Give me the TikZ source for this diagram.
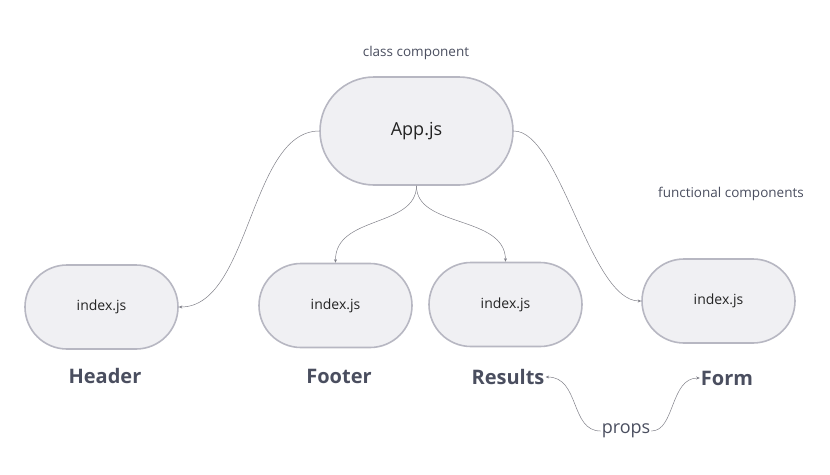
\documentclass[tikz,border=0pt]{standalone}
\usepackage{fontspec}
\setmainfont{Open Sans}
\usetikzlibrary{arrows.meta}
\definecolor{nodefill}{HTML}{F0F0F3}
\definecolor{nodeline}{HTML}{B7B7C2}
\definecolor{labelc}{HTML}{4A4E5F}
\definecolor{textc}{HTML}{232323}
\definecolor{wire}{HTML}{808089}
\tikzset{
  pill/.style={draw=nodeline, fill=nodefill, line width=1.6pt, rounded corners=42pt,
    minimum width=153pt, minimum height=84pt, inner sep=0pt, text=textc, font=\fontsize{14}{16}\selectfont},
  bigpill/.style={pill, rounded corners=54pt, minimum width=193pt, minimum height=108pt, font=\fontsize{18}{21}\selectfont},
  comp/.style={text=labelc, font=\bfseries\fontsize{20}{24}\selectfont, inner sep=1pt},
  note/.style={text=labelc, font=\fontsize{13.5}{16}\selectfont},
  wirec/.style={draw=wire, line width=0.5pt, -{Stealth[length=3.5pt,width=3pt]}},
}
\begin{document}
\begin{tikzpicture}[x=1pt,y=-1pt]
\useasboundingbox (0,0) rectangle (830,474);
\node[note] (cls) at (416,53) {class component};
\node[note] (fun) at (731,194) {functional components};
\node[bigpill] (app) at (416.5,131) {App.js};
\node[pill] (hdr) at (101.5,307) {index.js};
\node[pill] (ftr) at (335.5,305.5) {index.js};
\node[pill] (res) at (505.5,304.5) {index.js};
\node[pill] (frm) at (718.5,301) {index.js};
\node[comp] (lh) at (105,376) {Header};
\node[comp] (lf) at (339,376) {Footer};
\node[comp] (lr) at (508,377) {Results};
\node[comp] (lfo) at (727,378) {Form};
\node[text=labelc, font=\fontsize{18}{20}\selectfont, inner sep=1pt] (props) at (626,431) {props};
\draw[wirec] (app.west) .. controls (250,131) and (250,307) .. (hdr.east);
\draw[wirec] (app.east) .. controls (560,131) and (590,301) .. (frm.west);
\draw[wirec] (app.south) .. controls (416,228) and (335,215) .. (ftr.north);
\draw[wirec] (app.south) .. controls (416,228) and (505,215) .. (res.north);
\draw[wirec] (props.west) .. controls (570,431) and (580,377) .. (lr.east);
\draw[wirec] (props.east) .. controls (675,431) and (670,378) .. (lfo.west);
\end{tikzpicture}
\end{document}
